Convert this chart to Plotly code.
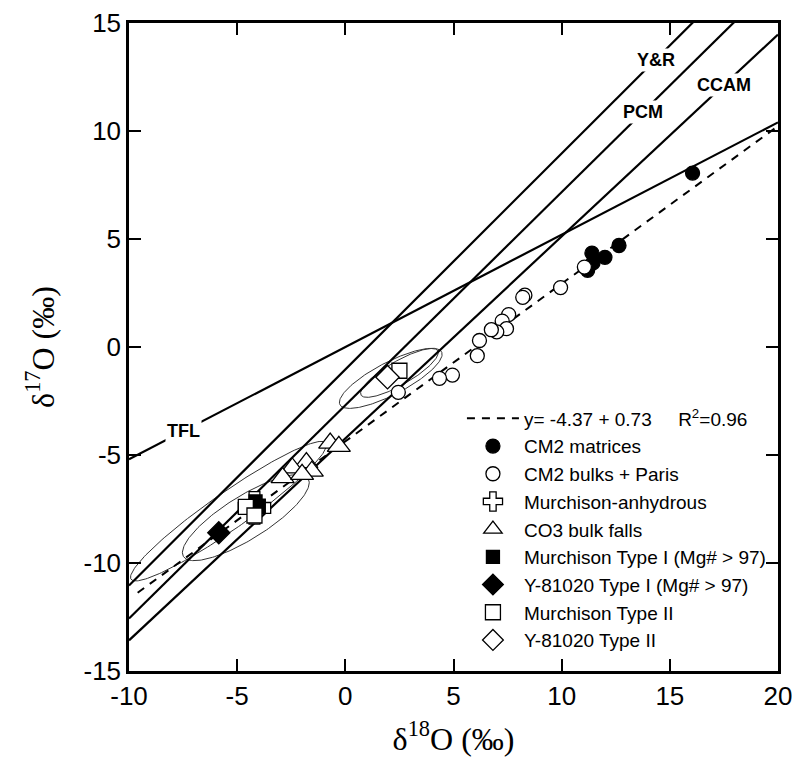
import numpy as np
import plotly.graph_objects as go

# ---------------- data ----------------
cm2_matrix_x = [16.05, 12.65, 12.0, 11.4, 11.45, 11.2]
cm2_matrix_y = [8.05, 4.7, 4.15, 4.35, 3.9, 3.55]

cm2_bulk_x = [11.05, 9.95, 8.3, 8.2, 7.55, 7.25, 7.45, 7.0, 6.75, 6.2, 6.1, 4.95, 4.35, 2.45]
cm2_bulk_y = [3.7, 2.75, 2.4, 2.3, 1.5, 1.2, 0.85, 0.7, 0.8, 0.3, -0.4, -1.3, -1.45, -2.1]

murch_anh_x = [-4.2]
murch_anh_y = [-7.45]

co3_x = [-0.7, -0.3, -1.8, -1.55, -2.45, -2.9, -2.0]
co3_y = [-4.45, -4.6, -5.35, -5.75, -5.6, -6.05, -5.9]

murch_t1_x = [-4.15, -4.0]
murch_t1_y = [-7.15, -7.35]

y81_t1_x = [-5.85]
y81_t1_y = [-8.6]

murch_t2_x = [2.5, -4.6, -4.2]
murch_t2_y = [-1.1, -7.4, -7.8]

y81_t2_x = [1.95]
y81_t2_y = [-1.4]

# reference lines: slope, intercept
ref_names = ["TFL", "Y&R", "PCM", "CCAM"]
ref_slopes = [0.52, 1.00, 0.987, 0.935]
ref_intercepts = [0.0, -1.04, -2.70, -4.23]
ref_label_x = [-7.5, 14.35, 13.75, 17.5]

# regression
reg_slope = 0.73
reg_intercept = -4.37
reg_x_range = [-9.6, 20.0]
reg_label = "y= -4.37 + 0.73\u00a0\u00a0\u00a0\u00a0\u00a0R<sup>2</sup>=0.96"

# ellipses: center x, center y, semi-major, semi-minor, angle (deg)
ell_cx = [-5.4, -4.6, 2.1, 2.5]
ell_cy = [-7.6, -7.9, -1.45, -1.2]
ell_a = [5.5, 3.4, 2.65, 2.05]
ell_b = [0.85, 1.0, 0.75, 0.55]
ell_ang = [35, 32, 27.5, 30]

tick_vals = [-15, -10, -5, 0, 5, 10, 15, 20]
tick_text = ["-15", "-10", "-5", "0", "5", "10", "15", "20"]

# ---------------- figure ----------------
fig = go.Figure()
X0, X1 = -10, 20

# ellipses
t = np.linspace(0, 2 * np.pi, 200)
for cx, cy, a, b, ang in zip(ell_cx, ell_cy, ell_a, ell_b, ell_ang):
    th = np.deg2rad(ang)
    ex = cx + a * np.cos(t) * np.cos(th) - b * np.sin(t) * np.sin(th)
    ey = cy + a * np.cos(t) * np.sin(th) + b * np.sin(t) * np.cos(th)
    fig.add_trace(go.Scatter(x=ex, y=ey, mode="lines",
                             line=dict(color="#333333", width=1),
                             showlegend=False, hoverinfo="skip"))

# reference lines
lx = np.array([X0, X1])
for s, c in zip(ref_slopes, ref_intercepts):
    fig.add_trace(go.Scatter(x=lx, y=s * lx + c, mode="lines",
                             line=dict(color="black", width=2.2),
                             showlegend=False, hoverinfo="skip"))

# regression line
rx = np.array(reg_x_range)
fig.add_trace(go.Scatter(x=rx, y=reg_slope * rx + reg_intercept, mode="lines",
                         line=dict(color="black", width=2, dash="8px,7px"),
                         name=reg_label))

def add_pts(x, y, name, symbol, size, fill):
    fig.add_trace(go.Scatter(x=x, y=y, mode="markers", name=name,
                             marker=dict(symbol=symbol, size=size, color=fill,
                                         line=dict(color="black", width=1.3))))

add_pts(cm2_matrix_x, cm2_matrix_y, "CM2 matrices", "circle", 14, "black")
add_pts(cm2_bulk_x, cm2_bulk_y, "CM2 bulks + Paris", "circle", 14, "white")
add_pts(murch_anh_x, murch_anh_y, "Murchison-anhydrous", "cross", 27, "white")
add_pts(co3_x, co3_y, "CO3 bulk falls", "triangle-up", 20, "white")
add_pts(murch_t1_x, murch_t1_y, "Murchison Type I (Mg# > 97)", "square", 13, "black")
add_pts(y81_t1_x, y81_t1_y, "Y-81020 Type I (Mg# > 97)", "diamond", 17, "black")
add_pts(murch_t2_x, murch_t2_y, "Murchison Type II", "square", 15, "white")
add_pts(y81_t2_x, y81_t2_y, "Y-81020 Type II", "diamond", 18, "white")

# line labels
for name, s, c, xl in zip(ref_names, ref_slopes, ref_intercepts, ref_label_x):
    fig.add_annotation(x=xl, y=s * xl + c, text="<b>%s</b>" % name, showarrow=False,
                       font=dict(family="Liberation Sans", size=18, color="black"),
                       bgcolor="white", borderpad=1)

axis_common = dict(
    showline=True, linecolor="black", linewidth=2.5, mirror="ticks",
    ticks="inside", ticklen=12, tickwidth=2, tickcolor="black",
    showgrid=False, zeroline=False, automargin=False,
    tickfont=dict(family="Liberation Sans", size=26, color="black"),
    tickvals=tick_vals, ticktext=tick_text,
)

fig.update_layout(
    width=792, height=761,
    margin=dict(l=121, r=22, t=15, b=98),
    paper_bgcolor="white", plot_bgcolor="white",
    xaxis=dict(range=[X0, X1],
               title=dict(text="\u03b4<sup>18</sup>O (\u2030)", standoff=18,
                          font=dict(family="Liberation Serif", size=32, color="black")),
               **axis_common),
    yaxis=dict(range=[-15, 15],
               title=dict(text="\u03b4<sup>17</sup>O (\u2030)", standoff=20,
                          font=dict(family="Liberation Serif", size=32, color="black")),
               **axis_common),
    legend=dict(x=0.513, y=0.419, xanchor="left", yanchor="top",
                bgcolor="rgba(0,0,0,0)", borderwidth=0,
                font=dict(family="Liberation Sans", size=19, color="black"),
                itemsizing="trace", itemwidth=52, tracegroupgap=0),
    showlegend=True,
)

fig.write_html("out.html")
